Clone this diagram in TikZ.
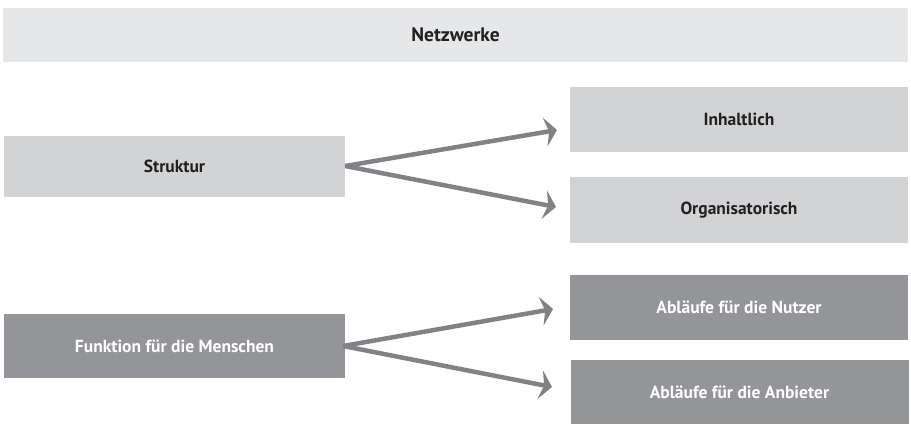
\documentclass[tikz,border=0pt]{standalone}
\usepackage{fontspec}
\setmainfont{PT Sans}
\usetikzlibrary{arrows.meta,positioning}

\definecolor{titlegray}{HTML}{E6E7E8}
\definecolor{lightgray}{HTML}{D1D3D4}
\definecolor{darkgray}{HTML}{939598}
\definecolor{arrowgray}{HTML}{808285}
\definecolor{textblack}{HTML}{231F20}

\begin{document}
\begin{tikzpicture}[x=1pt, y=-1pt,
    titlebox/.style={rectangle, fill=titlegray, minimum width=905pt, minimum height=54pt, font=\bfseries\fontsize{19.5}{22}\selectfont, text=textblack},
    lightbox/.style={rectangle, fill=lightgray, minimum width=338pt, minimum height=65pt, font=\bfseries\fontsize{17.5}{20}\selectfont, text=textblack},
    darkbox/.style={rectangle, fill=darkgray, minimum width=338pt, minimum height=65pt, font=\bfseries\fontsize{17.5}{20}\selectfont, text=white},
    branch/.style={arrowgray, line width=4.5pt, -{Stealth[length=12pt, width=29pt, inset=4pt]}}
]
\useasboundingbox (0,0) rectangle (911,424);

% Title
\node[titlebox] (netz) at (455.5, 35) {Netzwerke};

% Struktur and its two branches
\node[lightbox, minimum width=341pt, minimum height=61pt] (struktur) at (174.5, 166) {Struktur};
\node[lightbox] (inhalt) at (739, 119.5) {Inhaltlich};
\node[lightbox, minimum height=66pt] (orga) at (739, 210) {Organisatorisch};

% Funktion and its two branches
\node[darkbox, minimum width=341pt, minimum height=64pt] (funktion) at (174.5, 346) {Funktion für die Menschen};
\node[darkbox] (nutzer) at (739, 307.5) {Abläufe für die Nutzer};
\node[darkbox, minimum height=64pt] (anbieter) at (739.5, 392) {Abläufe für die Anbieter};

% Arrow tips, just short of the boxes
\coordinate (tipinhalt) at (557, 130);
\coordinate (tiporga) at (556, 207);
\coordinate (tipnutzer) at (553, 309);
\coordinate (tipanbieter) at (552, 387);

% Arrows
\draw[branch] (struktur.east) -- (tipinhalt);
\draw[branch] (struktur.east) -- (tiporga);
\draw[branch] ([xshift=-2pt]funktion.east) -- (tipnutzer);
\draw[branch] ([xshift=-2pt]funktion.east) -- (tipanbieter);

\end{tikzpicture}
\end{document}
